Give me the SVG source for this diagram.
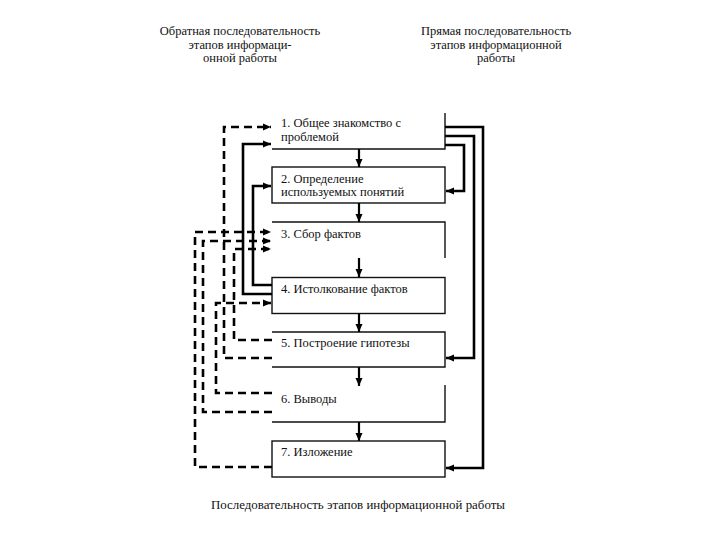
<svg xmlns="http://www.w3.org/2000/svg" width="720" height="540" viewBox="0 0 720 540">
<style>
text{font-family:"Liberation Serif","Times New Roman",serif;font-size:12.5px;fill:#111}
.hd{text-anchor:middle}
.cap{font-size:12.9px}
.box{fill:none;stroke:#111;stroke-width:1.4}
.sol{fill:none;stroke:#000;stroke-width:2.6}
.dsh{fill:none;stroke:#000;stroke-width:2.6;stroke-dasharray:8 5}
.dn{fill:none;stroke:#000;stroke-width:2.2}
</style>
<defs>
<marker id="ah" markerUnits="userSpaceOnUse" markerWidth="10" markerHeight="10" refX="8" refY="5" orient="auto">
<path d="M0,1.5 L8,5 L0,8.5 Z" fill="#000"/>
</marker>
</defs>
<rect width="720" height="540" fill="#fff"/>
<g id="header-left">
<text class="hd" x="240" y="35">Обратная последовательность</text>
<text class="hd" x="240" y="49">этапов информаци-</text>
<text class="hd" x="240" y="62">онной работы</text>
</g>
<g id="header-right">
<text class="hd" x="496" y="35">Прямая последовательность</text>
<text class="hd" x="496" y="49">этапов информационной</text>
<text class="hd" x="496" y="62">работы</text>
</g>
<g id="n1"><path class="box" d="M445,113 V149 H272"/><text x="281" y="127">1. Общее знакомство с</text><text x="281" y="141">проблемой</text></g>
<g id="n2"><rect class="box" x="272" y="167" width="173" height="36"/><text x="281" y="183">2. Определение</text><text x="281" y="196">используемых понятий</text></g>
<g id="n3"><path class="box" d="M272,222 H445 V258"/><text x="281" y="238">3. Сбор фактов</text></g>
<g id="n4"><rect class="box" x="272" y="277.5" width="173" height="36"/><text x="281" y="293">4. Истолкование фактов</text></g>
<g id="n5"><path class="box" d="M272,332 H445 V367 H272"/><text x="281" y="347">5. Построение гипотезы</text></g>
<g id="n6"><path class="box" d="M445,385 V422 H272"/><text x="281" y="403">6. Выводы</text></g>
<g id="n7"><rect class="box" x="272" y="441" width="173" height="36"/><text x="281" y="456">7. Изложение</text></g>
<g id="connectors">
<path class="dn" marker-end="url(#ah)" d="M359,149 V167"/>
<path class="dn" marker-end="url(#ah)" d="M359,203 V222"/>
<path class="dn" marker-end="url(#ah)" d="M359,258 V277"/>
<path class="dn" marker-end="url(#ah)" d="M359,313.5 V332"/>
<path class="dn" marker-end="url(#ah)" d="M359,367 V386"/>
<path class="dn" marker-end="url(#ah)" d="M359,422 V441"/>
<path class="sol" marker-end="url(#ah)" d="M445,145 H464 V191 H446"/>
<path class="sol" marker-end="url(#ah)" d="M445,136 H474 V358 H446"/>
<path class="sol" marker-end="url(#ah)" d="M445,127 H483 V468 H446"/>
<path class="sol" marker-end="url(#ah)" d="M272,294 H243 V144 H271"/>
<path class="sol" marker-end="url(#ah)" d="M272,285 H253 V186 H271"/>
<path class="dsh" marker-end="url(#ah)" d="M272,358 H224 V127 H271"/>
<path class="dsh" marker-end="url(#ah)" d="M272,467 H195 V232 H271"/>
<path class="dsh" marker-end="url(#ah)" d="M272,412 H203 V241 H271"/>
<path class="dsh" marker-end="url(#ah)" d="M272,340 H234 V249 H271"/>
<path class="dsh" marker-end="url(#ah)" d="M272,393 H216 V303 H271"/>
</g>
<g id="caption"><text class="hd cap" x="358" y="509">Последовательность этапов информационной работы</text></g>
</svg>
